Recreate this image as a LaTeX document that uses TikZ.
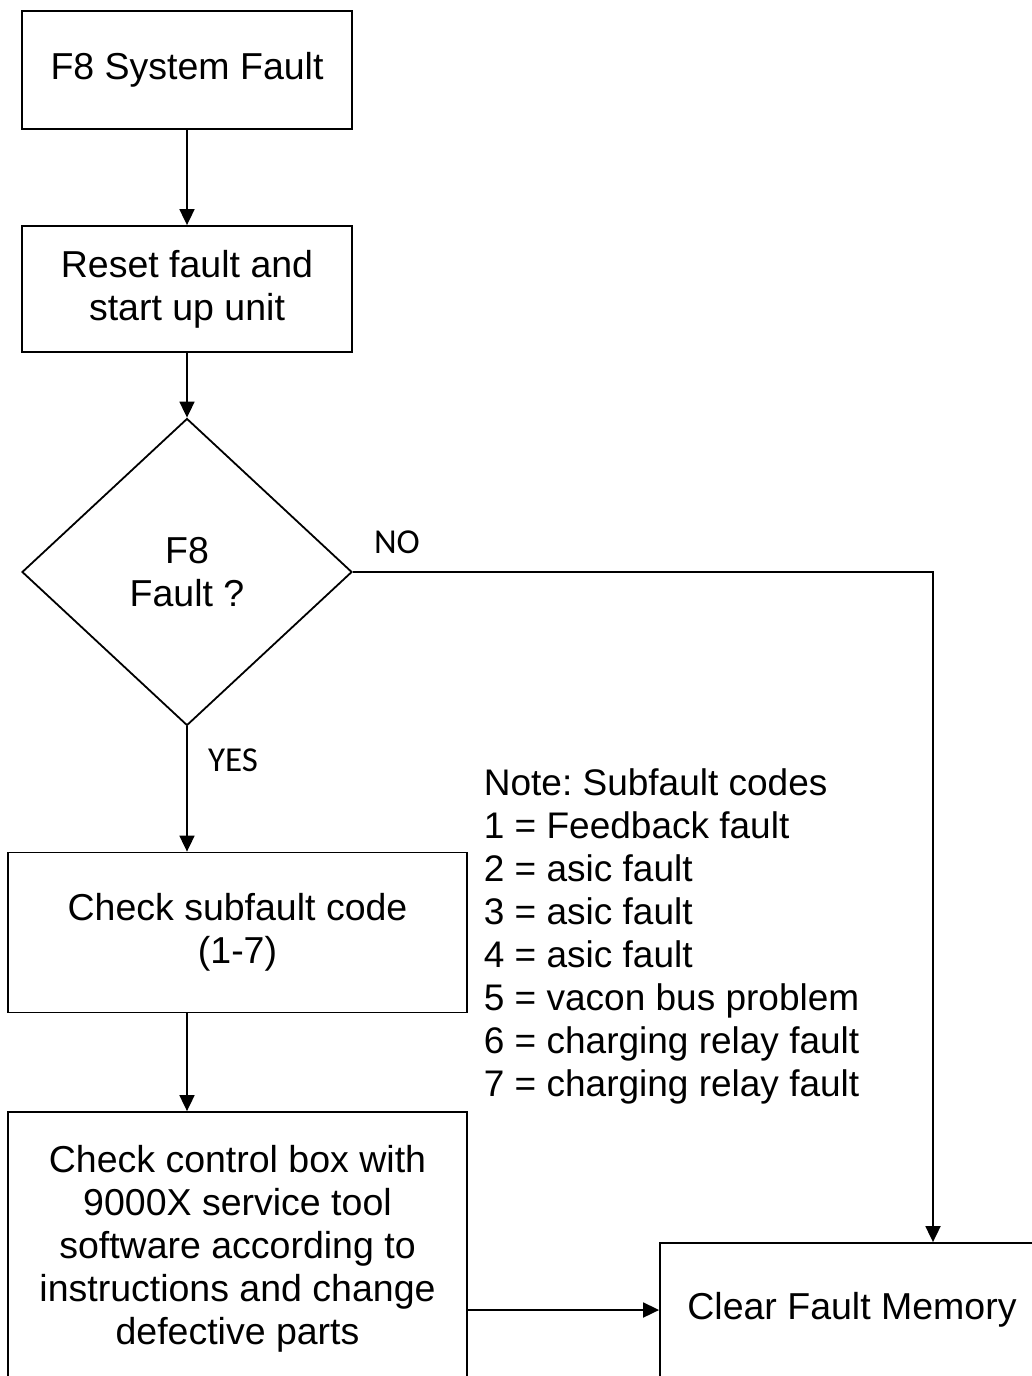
\documentclass[tikz,border=0pt]{standalone}
\usepackage{fontspec}
\setmainfont{Liberation Sans}
\newfontfamily\lblfont{Carlito}
\usetikzlibrary{arrows.meta,shapes.geometric}
\begin{document}
\frenchspacing
\begin{tikzpicture}[x=1pt,y=-1pt,
  line width=1.8pt,
  box/.style={draw,rectangle,inner sep=0pt,align=center,font=\fontsize{37.5}{43}\selectfont},
  dec/.style={draw,diamond,inner sep=0pt,align=center,font=\fontsize{37.5}{43}\selectfont,minimum width=330pt,minimum height=307pt},
  conn/.style={-{Triangle[width=15pt,length=16pt]}},
  lbl/.style={font=\lblfont\fontsize{35}{40}\selectfont,inner sep=0pt,anchor=base}]
\useasboundingbox (0,0) rectangle (1031,1376);
\node[box,minimum width=330pt,minimum height=118pt] (b1) at (187,70) {F8 System Fault};
\node[box,minimum width=330pt,minimum height=126pt] (b2) at (187,289) {Reset fault and\\start up unit};
\node[dec] (d) at (187,572) {F8\\Fault ?};
\node[box,minimum width=459pt,minimum height=160pt] (b3) at (237.5,932.5) {Check subfault code\\(1-7)};
\node[box,minimum width=459pt,minimum height=274pt] (b4) at (237.5,1249) {Check control box with\\9000X service tool\\software according to\\instructions and change\\defective parts};
\node[box,minimum width=384pt,minimum height=134pt] (b5) at (852,1310) {Clear Fault Memory};
\node[align=left,anchor=north west,inner sep=0pt,font=\fontsize{37}{43}\selectfont] (note) at (483,768)
 {Note: Subfault codes\\1 = Feedback fault\\2 = asic fault\\3 = asic fault\\4 = asic fault\\5 = vacon bus problem\\6 = charging relay fault\\7 = charging relay fault};
\coordinate (turn) at (933,572);
\draw[conn] (b1) -- (b2);
\draw[conn] (b2) -- (d);
\draw[conn] (d.south) -- (d.south |- b3.north);
\draw[conn] (d.south |- b3.south) -- (d.south |- b4.north);
\draw[conn] (b4.east |- b5.west) -- (b5.west);
\draw[conn] (d.east) -- (turn) -- (turn |- b5.north);
\node[lbl] (no) at (397,553) {NO};
\node[lbl] (yes) at (233,771) {YES};
\end{tikzpicture}
\end{document}
